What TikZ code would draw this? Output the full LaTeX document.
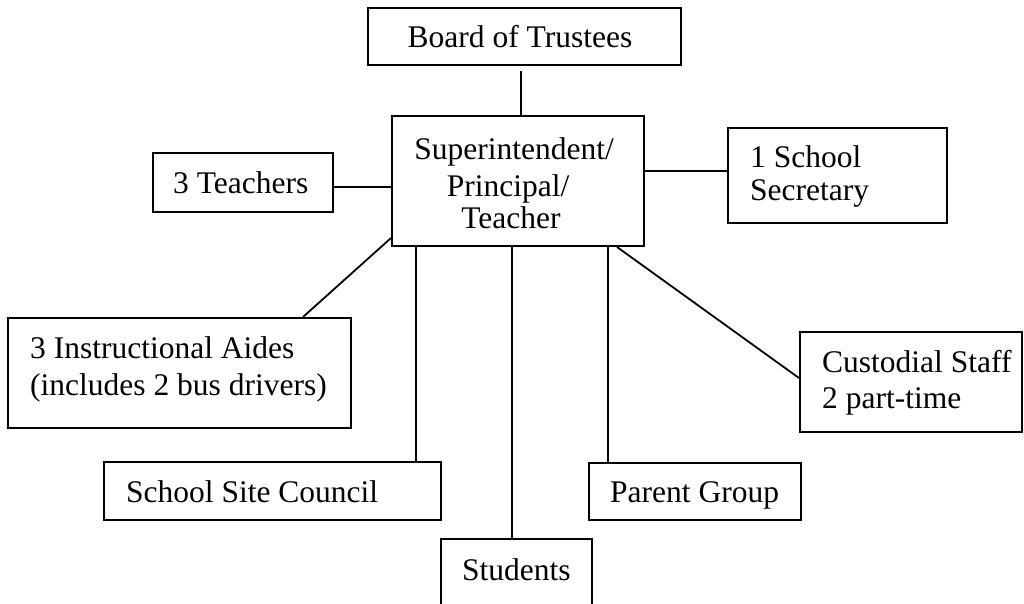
\documentclass[tikz,border=0pt]{standalone}
\usepackage{fontspec}
\setmainfont{Liberation Serif}
\usetikzlibrary{calc}
\begin{document}
\begin{tikzpicture}[x=1pt,y=-1pt,
  box/.style={draw=black,line width=2pt,rectangle,inner sep=0pt,fill=none},
  txt/.style={inner sep=0pt,font=\fontsize{31.5}{36}\selectfont},
  link/.style={draw=black,line width=1.8pt}]
\useasboundingbox[fill=white] (0,0) rectangle (1024,603);
% boxes
\node[box,minimum width=313pt,minimum height=57pt] (board) at (524.5,36.5) {};
\node[box,minimum width=252pt,minimum height=130pt] (super) at (518,181) {};
\node[box,minimum width=180pt,minimum height=59pt] (teach) at (243,182.5) {};
\node[box,minimum width=219pt,minimum height=95pt] (secr) at (837.5,175.5) {};
\node[box,minimum width=343pt,minimum height=110pt] (aides) at (179.5,373) {};
\node[box,minimum width=222pt,minimum height=100pt] (cust) at (911,382) {};
\node[box,minimum width=337pt,minimum height=58pt] (ssc) at (272.5,491) {};
\node[box,minimum width=212pt,minimum height=57pt] (parent) at (695,491.5) {};
\node[box,minimum width=151pt,minimum height=80pt] (stud) at (516.5,579) {};
% texts
\node[txt,anchor=base] (tboard) at (520,47) {Board of Trustees};
\node[txt,anchor=base] (tsup1) at (514,159) {Superintendent/};
\node[txt,anchor=base] (tsup2) at (508,196) {Principal/};
\node[txt,anchor=base] (tsup3) at (511,228) {Teacher};
\node[txt,anchor=base west] (tteach) at (173,193) {3 Teachers};
\node[txt,anchor=base west] (tsec1) at (750,167) {1 School};
\node[txt,anchor=base west] (tsec2) at (750,200) {Secretary};
\node[txt,anchor=base west] (taid1) at (30,358) {3 Instructional Aides};
\node[txt,anchor=base west] (taid2) at (30,395) {(includes 2 bus drivers)};
\node[txt,anchor=base west] (tcus1) at (822,372) {Custodial Staff};
\node[txt,anchor=base west] (tcus2) at (822,408) {2 part-time};
\node[txt,anchor=base west] (tssc) at (126,502) {School Site Council};
\node[txt,anchor=base west] (tpar) at (610,502) {Parent Group};
\node[txt,anchor=base west] (tstu) at (462,580) {Students};
% connectors
\draw[link] ([xshift=-3.5pt,yshift=-5pt]board.south) -- ([xshift=3pt]super.north);
\draw[link] ([yshift=-4.5pt]teach.east) -- ([yshift=-4.5pt]teach.east -| super.west);
\draw[link] ([yshift=10pt]super.east) -- ([yshift=10pt]super.east -| secr.west);
\draw[link] ([yshift=9pt]super.south west) -- ([xshift=-49pt]aides.north east);
\draw[link] ([xshift=25pt]super.south west) -- ([xshift=25pt]super.south west |- ssc.north);
\draw[link] ([xshift=121pt]super.south west) -- ([xshift=121pt]super.south west |- stud.north);
\draw[link] ([xshift=217pt]super.south west) -- ([xshift=217pt]super.south west |- parent.north);
\draw[link] ([xshift=226pt]super.south west) -- ([yshift=4pt]cust.west);
\end{tikzpicture}
\end{document}
